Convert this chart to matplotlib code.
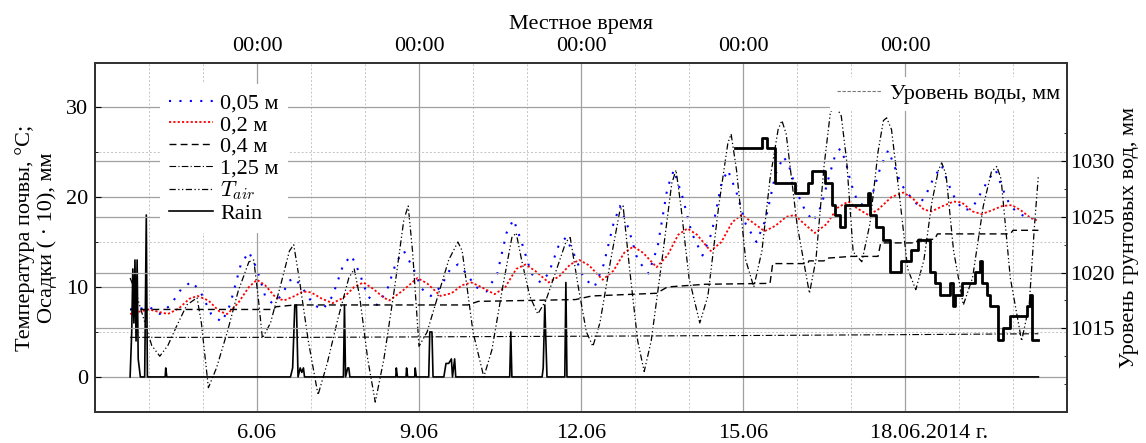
import numpy as np
import matplotlib
matplotlib.use('Agg')
from matplotlib import pyplot as plt
from matplotlib.lines import Line2D
from matplotlib.ticker import FixedLocator, MultipleLocator
import matplotlib.transforms as mtransforms

plt.rcParams['font.family'] = ['Liberation Serif', 'DejaVu Serif']
plt.rcParams['mathtext.fontset'] = 'cm'
plt.rcParams['font.size'] = 16

# time axis: days since 03.06.2014 00:00
# soil temperature at 0.05 m
t005 = [0.65, 0.85, 1.0, 1.2, 1.4, 1.6, 1.79, 1.95, 2.15, 2.35, 2.5, 2.7, 2.85, 3.0, 3.15,
        3.28, 3.45, 3.6, 3.7, 3.85, 4.05, 4.22, 4.4, 4.6, 4.75, 4.9, 5.05, 5.22, 5.4, 5.58,
        5.72, 5.9, 6.05, 6.22, 6.4, 6.58, 6.72, 6.88, 7.05, 7.25, 7.45, 7.62, 7.75, 7.9,
        8.08, 8.25, 8.4, 8.58, 8.72, 8.88, 9.05, 9.25, 9.42, 9.6, 9.72, 9.88, 10.05, 10.25,
        10.42, 10.6, 10.72, 10.88, 11.05, 11.25, 11.42, 11.6, 11.72, 11.88, 12.05, 12.25,
        12.42, 12.6, 12.75, 12.85, 13.0, 13.15, 13.3, 13.45, 13.58, 13.7, 13.8, 13.9, 14.0,
        14.12, 14.25, 14.4, 14.55, 14.69, 14.8, 14.92, 15.05, 15.25, 15.4, 15.52, 15.68,
        15.8, 15.95, 16.1, 16.25, 16.4, 16.55, 16.68, 16.8, 16.95, 17.1, 17.3, 17.44]
v005 = [7.5, 7.6, 7.8, 7.0, 8.0, 9.8, 10.6, 9.5, 7.0, 6.1, 8.0, 12.5, 13.9, 12.0, 9.0,
        8.2, 9.0, 10.7, 11.0, 9.8, 8.0, 7.5, 9.0, 12.5, 13.5, 11.5, 9.0, 8.0, 9.5, 12.8,
        14.0, 12.0, 9.8, 9.0, 10.0, 12.0, 12.5, 11.5, 10.0, 9.5, 11.5, 16.0, 17.5, 15.0,
        11.5, 10.5, 11.5, 14.5, 15.5, 13.5, 11.0, 10.0, 12.5, 17.0, 19.0, 16.5, 13.0, 11.5,
        14.5, 21.0, 23.0, 20.0, 16.0, 13.5, 16.0, 21.5, 23.0, 20.5, 17.0, 15.0,
        17.5, 22.5, 24.5, 23.5, 20.5, 18.5, 17.3, 19.0, 22.0, 24.5, 25.4, 24.0, 21.5,
        19.5, 19.0, 20.4, 23.4, 25.2, 23.5, 21.5, 20.4, 19.0, 20.4, 22.0, 23.5,
        21.5, 19.5, 18.5, 18.8, 20.4, 22.0, 23.0, 21.0, 19.0, 18.2, 17.6, 17.7]
# 0.2 m
t02 = [0.65, 0.85, 1.0, 1.2, 1.35, 1.55, 1.75, 1.9, 2.1, 2.3, 2.45, 2.65, 2.85, 3.0, 3.15,
       3.35, 3.5, 3.7, 3.85, 4.0, 4.2, 4.4, 4.6, 4.8, 4.97, 5.15, 5.35, 5.45, 5.7, 5.97,
       6.15, 6.4, 6.6, 6.8, 6.97, 7.15, 7.4, 7.6, 7.8, 7.97, 8.15, 8.4, 8.6, 8.8, 8.97,
       9.15, 9.4, 9.6, 9.8, 9.97, 10.15, 10.4, 10.6, 10.8, 10.97, 11.15, 11.4, 11.6, 11.8,
       11.97, 12.15, 12.4, 12.6, 12.8, 12.96, 13.1, 13.33, 13.55, 13.75, 13.95, 14.1, 14.32,
       14.5, 14.75, 14.97, 15.15, 15.35, 15.49, 15.7, 15.9, 16.05, 16.25, 16.42, 16.6, 16.8,
       16.98, 17.15, 17.3, 17.44]
v02 = [7.0, 7.3, 7.5, 7.2, 7.0, 7.6, 8.7, 9.0, 8.5, 7.3, 7.0, 8.2, 10.0, 10.8, 10.2,
       8.8, 8.5, 9.0, 9.5, 9.4, 8.7, 8.2, 8.8, 10.0, 10.5, 9.8, 8.8, 8.5, 9.6, 11.0,
       10.4, 9.0, 9.3, 10.2, 10.5, 10.0, 9.2, 10.0, 12.0, 12.5, 11.8, 10.5, 11.2, 12.5, 13.0,
       12.4, 10.8, 11.8, 13.8, 14.5, 13.8, 12.2, 13.5, 15.8, 16.5, 15.8, 14.0, 15.0, 17.2,
       18.0, 17.3, 16.2, 16.8, 17.8, 18.0, 17.2, 16.0, 17.0, 18.8, 19.5, 18.8, 18.0,
       18.6, 20.0, 20.5, 19.8, 18.6, 18.4, 19.0, 19.5, 19.4, 18.4, 18.1, 18.5, 19.0,
       19.1, 18.5, 17.8, 17.4]
# 0.4 m
t04 = [0.65, 3.3, 3.35, 3.7, 6.9, 7.1, 8.9, 9.2, 10.4, 10.6, 11.3, 12.5, 12.55, 13.2, 13.22,
       13.5, 13.55, 14.0, 14.5, 14.55, 15.2, 15.25, 15.55, 15.6, 16.95, 17.0, 17.47]
v04 = [7.5, 7.5, 7.8, 8.0, 8.0, 8.4, 8.6, 9.0, 9.3, 10.0, 10.3, 10.4, 12.6, 12.6, 12.9,
       12.9, 13.2, 13.4, 13.4, 14.9, 14.9, 15.3, 15.3, 15.9, 15.9, 16.3, 16.3]
# 1.25 m
t125 = [0.65, 4.0, 8.0, 12.0, 15.0, 17.47]
v125 = [4.4, 4.4, 4.5, 4.6, 4.7, 4.8]
# air temperature
tair_t = [0.65, 0.75, 0.9, 1.05, 1.2, 1.35, 1.5, 1.7, 1.89, 1.97, 2.1, 2.25, 2.45, 2.65,
          2.85, 2.94, 3.02, 3.1, 3.25, 3.45, 3.6, 3.68, 3.78, 3.95, 4.13, 4.3, 4.5, 4.7,
          4.8, 4.9, 5.05, 5.19, 5.35, 5.55, 5.72, 5.8, 5.88, 6.0, 6.15, 6.35, 6.55, 6.72,
          6.8, 7.0, 7.2, 7.35, 7.55, 7.72, 7.8, 7.9, 8.05, 8.2, 8.35, 8.55, 8.72, 8.8, 8.95,
          9.1, 9.22, 9.35, 9.55, 9.72, 9.78, 9.9, 10.05, 10.17, 10.3, 10.5, 10.68, 10.76,
          10.85, 11.0, 11.2, 11.35, 11.55, 11.72, 11.78, 11.88, 12.05, 12.2, 12.35, 12.5,
          12.65, 12.72, 12.8, 13.0, 13.23, 13.35, 13.5, 13.62, 13.73, 13.82, 13.92, 14.04,
          14.2, 14.35, 14.5, 14.6, 14.66, 14.75, 14.9, 15.05, 15.2, 15.35, 15.5, 15.62,
          15.68, 15.76, 15.9, 16.08, 16.25, 16.45, 16.6, 16.7, 16.78, 16.95, 17.16, 17.3,
          17.4, 17.47]
tair_v = [11.0, 9.5, 6.5, 3.5, 2.3, 3.5, 5.5, 8.0, 8.8, 6.0, -1.2, 1.0, 5.0, 9.5,
          12.8, 13.0, 9.0, 4.3, 6.0, 10.5, 14.0, 14.7, 11.0, 4.0, -2.0, 1.5, 6.5, 11.0,
          12.0, 9.0, 2.0, -2.8, 2.0, 10.0, 17.5, 19.0, 14.0, 3.4, 5.0, 9.0, 13.0, 15.0,
          14.0, 5.0, 0.0, 3.0, 10.0, 15.5, 16.0, 13.0, 9.0, 7.0, 8.5, 12.0, 15.0, 15.5, 10.0,
          5.0, 3.4, 6.0, 13.0, 18.5, 19.0, 12.0, 4.0, 0.6, 4.0, 13.0, 21.5, 23.0,
          19.0, 11.0, 6.0, 9.0, 19.0, 26.0, 27.0, 23.0, 13.0, 10.0, 14.0, 22.0,
          27.5, 28.5, 27.0, 17.0, 9.3, 13.0, 23.4, 29.5, 30.0, 29.0, 24.0, 13.9,
          12.8, 17.0, 25.0, 28.5, 28.8, 27.5, 20.0, 12.0, 9.7, 13.0, 19.5, 23.0,
          23.8, 22.5, 14.0, 8.0, 11.0, 19.0, 22.8, 23.4, 22.0, 11.0, 4.0, 8.0,
          17.0, 22.4]
# rain (x10), mm
rain_t = [0.65, 0.68, 0.70, 0.72, 0.74, 0.76, 0.78, 0.80, 0.84, 0.92, 0.95, 0.97, 1.3, 1.31,
          1.33, 3.62, 3.66, 3.70, 3.73, 3.76, 3.80, 3.83, 3.86, 3.88, 4.60, 4.62, 4.64, 4.68,
          4.70, 4.72, 5.57, 5.58, 5.60, 5.76, 5.77, 5.79, 5.92, 5.93, 5.95, 6.18, 6.20, 6.24,
          6.26, 6.46, 6.50, 6.55, 6.60, 6.62, 6.66, 6.68, 7.68, 7.70, 7.72, 8.28, 8.30, 8.33,
          8.37, 8.70, 8.72, 8.74, 17.47]
rain_v = [0, 5, 12, 6, 13, 4, 13, 2, 0, 0, 18, 0, 0, 1,
          0, 0, 1, 8, 8, 0, 1, 0.5, 1, 0, 0, 8, 0, 1,
          1, 0, 0, 1, 0, 0, 1, 0, 0, 1, 0, 0, 5, 5,
          0, 0, 1.5, 1.5, 2, 0, 2, 0, 0, 5, 0, 0, 1, 8,
          0, 0, 10.5, 0, 0]
# ground water level, mm (step changes)
wl_t = [11.85, 12.35, 12.45, 12.6, 12.96, 13.20, 13.27, 13.51, 13.64, 13.70, 13.79, 13.88,
        14.32, 14.35, 14.47, 14.59, 14.72, 14.93, 15.12, 15.24, 15.46, 15.55, 15.65, 15.83,
        15.89, 15.92, 16.05, 16.30, 16.39, 16.42, 16.51, 16.57, 16.73, 16.82, 16.95, 17.25,
        17.32, 17.35, 17.47]
wl_v = [1031.2, 1032.1, 1031.2, 1028.0, 1027.1, 1028.0, 1029.1, 1028.0, 1026.1, 1025.2,
        1024.1, 1026.1, 1027.1, 1025.2, 1024.1, 1022.9, 1020.1, 1021.0, 1022.0, 1022.9,
        1020.1, 1019.1, 1018.0, 1019.1, 1017.0, 1018.0, 1019.1, 1020.1, 1021.0, 1019.1,
        1018.0, 1017.0, 1014.0, 1015.0, 1016.1, 1017.0, 1018.0, 1014.0, 1014.0]

date_ticks = [3, 6, 9, 12, 15]
date_labels = ['6.06', '9.06', '12.06', '15.06', '18.06.2014 г.']

fig = plt.figure(figsize=(11.46, 4.43), dpi=100)
ax = fig.add_axes([95 / 1146, 31 / 443, 972 / 1146, 349 / 443])
ax2 = ax.twinx()
ax3 = ax.twiny()

l1, = ax.plot(t005, v005, color='#0000ff', lw=1.5, ls=(0, (1, 4)), label='0,05 м')
l2, = ax.plot(t02, v02, color='#ff0000', lw=1.3, ls=(0, (1.2, 1.2)), label='0,2 м')
l3, = ax.plot(t04, v04, color='k', lw=1.0, ls=(0, (5, 3)), label='0,4 м')
l4, = ax.plot(t125, v125, color='k', lw=0.8, ls=(0, (6, 2, 1, 2)), label='1,25 м')
l5, = ax.plot(tair_t, tair_v, color='k', lw=0.9, ls=(0, (5, 2, 1, 2, 1, 2)), label='$T_{air}$')
l6, = ax.plot(rain_t, rain_v, color='k', lw=1.2, label='Rain')
ax2.plot(wl_t, wl_v, color='k', lw=2.0, drawstyle='steps-post')

ax.set_xlim(0, 18)
ax.set_ylim(-3.9, 34.9)
ax2.set_ylim(1007.5, 1038.8)

ax.xaxis.set_major_locator(FixedLocator(date_ticks))
ax.set_xticklabels(date_labels)
ax.xaxis.set_minor_locator(MultipleLocator(1))
ax.yaxis.set_major_locator(MultipleLocator(10))
ax.yaxis.set_minor_locator(MultipleLocator(5))
ax2.yaxis.set_major_locator(FixedLocator([1015, 1020, 1025, 1030]))
ax2.yaxis.set_minor_locator(MultipleLocator(2.5))

ax.grid(which='major', color='#a0a0a0', lw=0.9, ls='-')
ax.grid(which='minor', color='#c4c4c4', lw=0.7, ls=(0, (2, 2)))
ax2.grid(which='major', axis='y', color='#a0a0a0', lw=0.9, ls='-')

ax3.set_xlim(ax.get_xlim())
ax3.xaxis.set_major_locator(FixedLocator(date_ticks))
ax3.set_xticklabels(['00:00'] * len(date_ticks))
ax3.set_xlabel('Местное время', labelpad=6)

for a in (ax, ax2, ax3):
    a.tick_params(which='both', direction='in', length=4, labelsize=16)
    a.tick_params(which='minor', length=2)
    for s in a.spines.values():
        s.set_linewidth(1.4)
        s.set_color('#333333')
ax.tick_params(axis='x', which='both', length=0, pad=9)
ax3.tick_params(axis='x', which='both', length=0, pad=5)
ax.tick_params(axis='y', pad=5)
ax2.tick_params(axis='y', pad=2)

ax.set_ylabel('Температура почвы, °C;\nОсадки ( · 10), мм', labelpad=6)
ax2.set_ylabel('Уровень грунтовых вод, мм', labelpad=4)

# shift the long last date label so that the date sits on its tick
last = ax.get_xticklabels()[-1]
last.set_transform(last.get_transform() +
                   mtransforms.ScaledTranslation(17 / 72, 0, fig.dpi_scale_trans))

leg1 = ax2.legend(handles=[l1, l2, l3, l4, l5, l6], loc='upper left',
                  bbox_to_anchor=(0.067, 0.94), borderaxespad=0, frameon=True,
                  fancybox=False, edgecolor='none', facecolor='white', framealpha=1,
                  labelspacing=0.05, handlelength=2.0, handletextpad=0.3, borderpad=0.4)
ax2.add_artist(leg1)
wl_proxy = Line2D([], [], color='#777777', lw=0.8, ls=(0, (3, 1.5)))
ax2.legend(handles=[wl_proxy], labels=['Уровень воды, мм'], loc='upper right',
           bbox_to_anchor=(1.0, 0.96), borderaxespad=0, frameon=True, fancybox=False,
           edgecolor='none', facecolor='white', framealpha=1,
           handlelength=2.0, handletextpad=0.4, borderpad=0.3)

fig.savefig('out.png', dpi=100)
